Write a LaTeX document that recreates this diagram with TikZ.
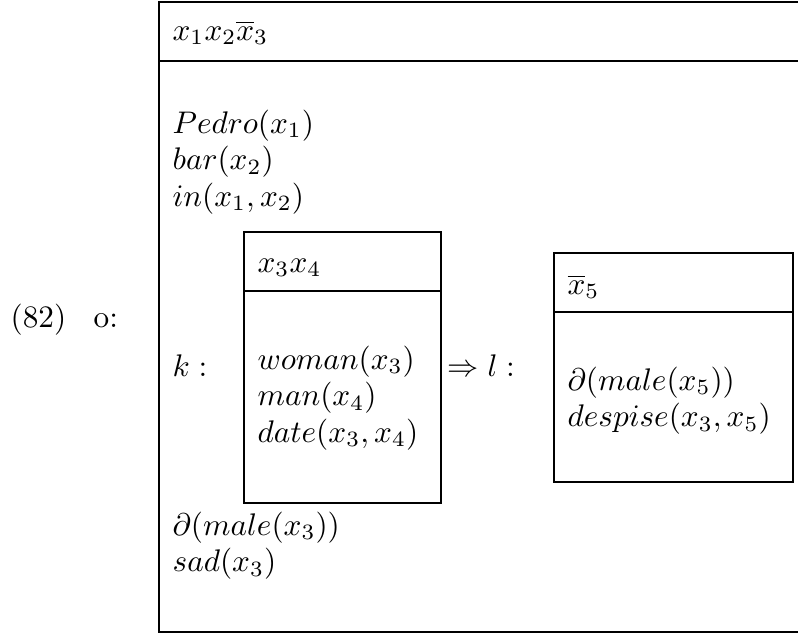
\documentclass[tikz,border=0pt]{standalone}
\usetikzlibrary{positioning}
\usepackage{amsmath,amssymb}

\begin{document}
\begin{tikzpicture}[x=0.32pt, y=-0.32pt, every node/.style={inner sep=0pt}, ln/.style={anchor=base west, text height=8.2pt, text depth=3.1pt}, nxt/.style={ln, below=0pt of #1.south west, anchor=north west}, frame/.style={draw, line width=0.5pt}]
\useasboundingbox (0,0) rectangle (798,634);
% main condition box
\draw[frame] (798,2) -| (159,632) -- (798,632);
\draw[frame] (159,61) -- (798,61);
\node[ln] (num) at (10,327) {(82)};
\node[ln] (cond) at (93,327) {o:};
\node[ln] (univ) at (172,40) {$x_1x_2\overline{x}_3$};
\node[ln] (pedro) at (172,133) {$Pedro(x_1)$};
\node[nxt=pedro] (bar) {$bar(x_2)$};
\node[nxt=bar] (inrel) {$in(x_1,x_2)$};
\node[ln] (k) at (172,376) {$k:$};
% antecedent box
\draw[frame] (244,232) rectangle (441,503);
\draw[frame] (244,291) -- (441,291);
\node[ln] (kuniv) at (257,272) {$x_3x_4$};
\node[ln] (woman) at (257,369) {$woman(x_3)$};
\node[nxt=woman] (man) {$man(x_4)$};
\node[nxt=man] (date) {$date(x_3,x_4)$};
\node[ln] (imp) at (447,376) {$\Rightarrow l:$};
% consequent box
\draw[frame] (554,253) rectangle (793,482);
\draw[frame] (554,312) -- (793,312);
\node[ln] (luniv) at (567,294) {$\overline{x}_5$};
\node[ln] (male5) at (567,390) {$\partial(male(x_5))$};
\node[nxt=male5] (despise) {$despise(x_3,x_5)$};
\node[ln] (male3) at (172,535) {$\partial(male(x_3))$};
\node[nxt=male3] (sad) {$sad(x_3)$};
\end{tikzpicture}
\end{document}
